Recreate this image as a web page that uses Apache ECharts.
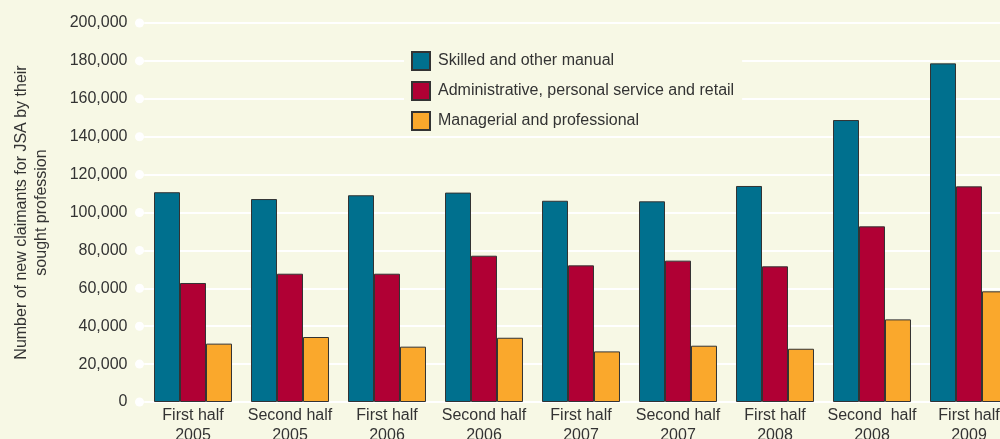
<!DOCTYPE html>
<html>
<head>
<meta charset="utf-8">
<script src="https://cdn.jsdelivr.net/npm/echarts@6/dist/echarts.min.js"></script>
<style>
    html, body {margin: 0; padding: 0; background: #f7f8e5;}
    #claimants-chart {width: 1000px; height: 439px;}
</style>
</head>
<body>
<div id="claimants-chart"></div>
<script>
var periods = ['First half\n2005', 'Second half\n2005', 'First half\n2006', 'Second half\n2006',
    'First half\n2007', 'Second half\n2007', 'First half\n2008', 'Second  half\n2008', 'First half\n2009'];
var skilledManual = [110700, 107100, 109100, 110500, 106200, 105900, 114000, 148800, 178700];
var adminRetail = [62800, 67700, 67700, 77200, 72100, 74600, 71600, 92700, 113800];
var managerial = [30800, 34300, 29200, 33900, 26700, 29700, 28100, 43600, 58400];
var yTicks = [0, 20000, 40000, 60000, 80000, 100000, 120000, 140000, 160000, 180000, 200000];

var seriesNames = ['Skilled and other manual', 'Administrative, personal service and retail', 'Managerial and professional'];
var colors = ['#00708e', '#b00034', '#faa82c'];
var font = "'Liberation Sans', Arial, sans-serif";

var chartDraw = {
    makeBar(name, data, color) {
        return {
            name: name,
            type: 'bar',
            barGap: 0,
            barCategoryGap: '19.6%',
            itemStyle: {color: color, borderColor: '#333', borderWidth: 1},
            data: data
        };
    },
    init() {
        let option = {
            backgroundColor: '#f7f8e5',
            animation: false,
            textStyle: {fontFamily: font},
            grid: {left: 144.5, right: -17.5, top: 23, bottom: 37, outerBoundsMode: 'none', containLabel: false},
            legend: {
                data: seriesNames,
                orient: 'vertical',
                left: 404,
                top: 42,
                padding: [9, 8, 4, 7],
                backgroundColor: '#f7f8e5',
                itemWidth: 18,
                itemHeight: 18,
                itemGap: 10,
                icon: 'rect',
                textStyle: {fontSize: 16, color: '#333', fontFamily: font, padding: [0, 0, 0, 3]}
            },
            xAxis: [{
                type: 'category',
                data: periods,
                axisLine: {show: false},
                axisTick: {show: false},
                axisLabel: {interval: 0, fontSize: 16, color: '#333', lineHeight: 20, margin: 4, fontFamily: font}
            }, {
                type: 'value',
                min: 0,
                max: 1,
                show: false
            }],
            yAxis: {
                type: 'value',
                min: 0,
                max: 200000,
                interval: 20000,
                name: 'Number of new claimants for JSA by their\nsought profession',
                nameLocation: 'middle',
                nameGap: 93,
                nameTextStyle: {fontSize: 16, color: '#333', lineHeight: 20, fontFamily: font},
                axisLine: {show: false},
                axisTick: {show: true, length: 6, lineStyle: {color: '#fff', width: 2}},
                axisLabel: {
                    fontSize: 16, color: '#333', margin: 17, fontFamily: font,
                    formatter: function (v) { return v.toLocaleString('en-US'); }
                },
                splitLine: {lineStyle: {color: '#fff', width: 2}}
            },
            series: [
                chartDraw.makeBar(seriesNames[0], skilledManual, colors[0]),
                chartDraw.makeBar(seriesNames[1], adminRetail, colors[1]),
                chartDraw.makeBar(seriesNames[2], managerial, colors[2]),
                {
                    // white dots at the left end of each gridline
                    type: 'scatter',
                    xAxisIndex: 1,
                    symbol: 'circle',
                    symbolSize: 9,
                    symbolOffset: [-5, 0],
                    silent: true,
                    clip: false,
                    z: 3,
                    itemStyle: {color: '#fff', opacity: 1},
                    data: yTicks.map(function (v) { return [0, v]; })
                }
            ]
        };
        var chart = echarts.init(document.getElementById('claimants-chart'));
        chart.setOption(option);
    }
};

chartDraw.init();
</script>
</body>
</html>
